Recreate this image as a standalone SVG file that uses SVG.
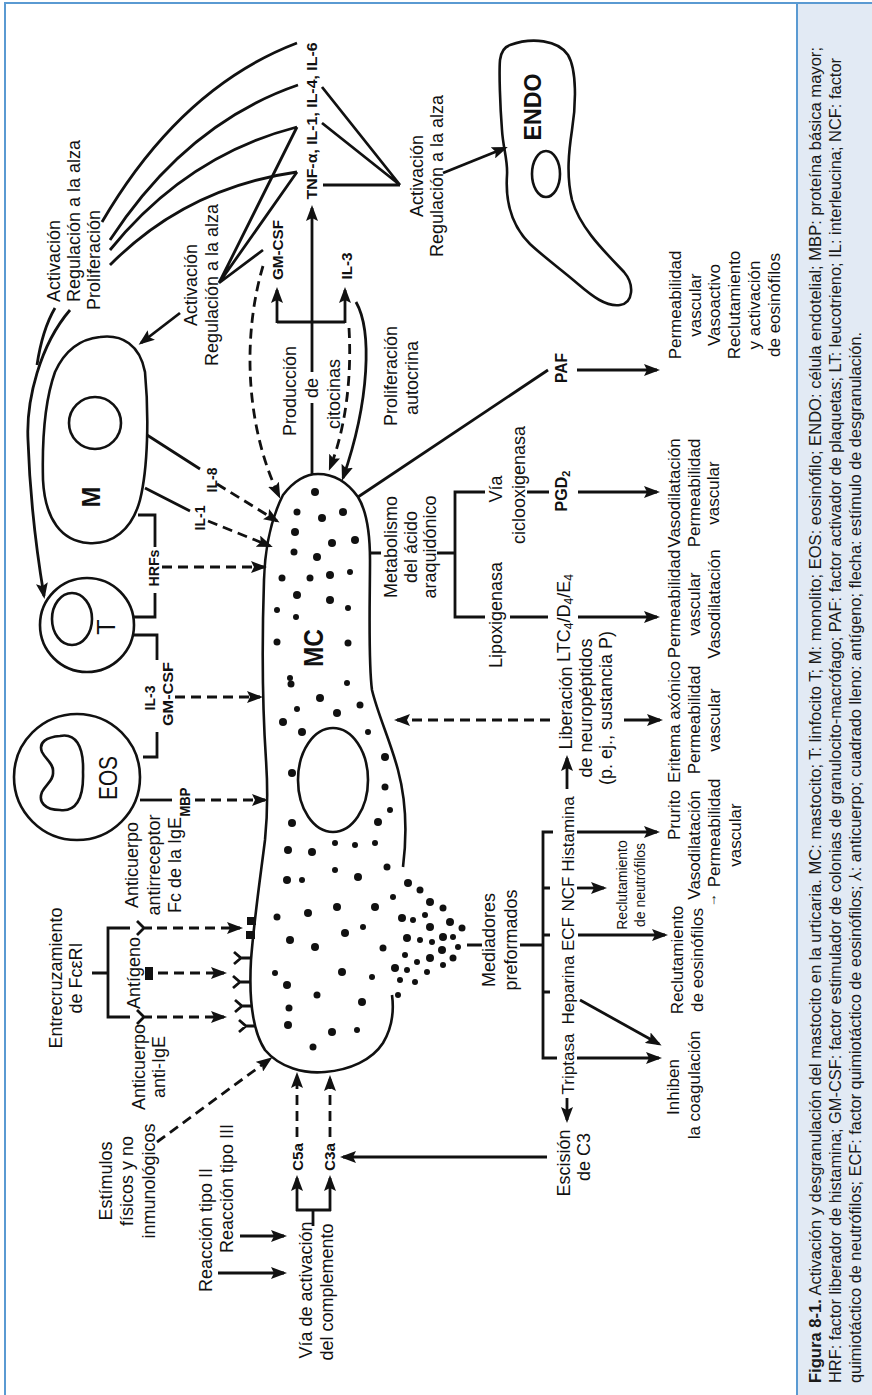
<svg xmlns="http://www.w3.org/2000/svg" width="872" height="1395" viewBox="0 0 872 1395">
<style>
 .t{font-family:"Liberation Sans",Arial,Helvetica,sans-serif;font-size:18px;fill:#111}
 .e{font-size:17px}
 .b{font-family:"Liberation Sans",Arial,Helvetica,sans-serif;font-size:15px;font-weight:bold;fill:#111}
 .b14{font-size:14px}
 .b16{font-size:16px}
 .sm{font-size:14px}
 .cap{font-family:"Liberation Sans",Arial,Helvetica,sans-serif;font-size:17px;fill:#1a1a1a}
 .ln{fill:none;stroke:#111;stroke-width:2.8;stroke-linejoin:miter}
 .ds{stroke-dasharray:10 6}
 .cell{fill:none;stroke:#111;stroke-width:2.6}
 .dot{fill:#111}
 .frame{stroke:#5a9ad2;stroke-width:2;fill:none}
</style>
<defs>
 <marker id="ah" viewBox="0 0 16 12" refX="13" refY="6" markerWidth="16" markerHeight="12" markerUnits="userSpaceOnUse" orient="auto">
  <path d="M0,0 L16,6 L0,12 L3,6 Z" fill="#111"/>
 </marker>
</defs>

<!-- frame and caption panel -->
<g id="frame">
 <rect x="797" y="3" width="75" height="1392" fill="#e2eaf4"/>
 <path class="frame" d="M5,1395 L5,3 L872,3 M797,3 L797,1395"/>
</g>

<!-- mast cell -->
<g id="mc">
 <path class="cell" d="M403,867 C407,835 406,800 398,770 C390,740 378,715 372,690 C368,660 370,600 370,560 C370,530 366,510 358,497 C348,483 335,474 318,474 C305,474 293,482 283,495 C273,515 265,545 264,580 C262,640 262,700 266,760 C268,790 268,810 265,840 C260,880 254,920 251,960 C249,995 252,1030 265,1050 C280,1068 305,1074 325,1072 C350,1070 372,1060 383,1043 C392,1028 394,1010 392,995"/>
 <ellipse class="cell" cx="333" cy="780" rx="35" ry="52"/>
 <g class="dot">
  <circle cx="297" cy="512" r="3.5"/><circle cx="295" cy="532" r="4"/><circle cx="294" cy="552" r="3.5"/><circle cx="282" cy="578" r="3.5"/>
  <circle cx="297" cy="595" r="4"/><circle cx="277" cy="610" r="3"/><circle cx="296" cy="617" r="3"/><circle cx="277" cy="642" r="3.5"/>
  <circle cx="290" cy="678" r="3"/><circle cx="315" cy="492" r="4"/><circle cx="343" cy="512" r="4"/><circle cx="322" cy="518" r="4"/>
  <circle cx="332" cy="543" r="4"/><circle cx="355" cy="540" r="4"/><circle cx="317" cy="557" r="4"/><circle cx="350" cy="572" r="3"/>
  <circle cx="330" cy="575" r="4"/><circle cx="310" cy="578" r="3.5"/><circle cx="330" cy="600" r="4"/><circle cx="348" cy="608" r="3"/>
  <circle cx="348" cy="643" r="3.5"/><circle cx="291" cy="684" r="3.5"/><circle cx="320" cy="698" r="4"/><circle cx="347" cy="683" r="3"/>
  <circle cx="297" cy="709" r="3"/><circle cx="337" cy="713" r="4"/><circle cx="360" cy="705" r="3.5"/><circle cx="283" cy="722" r="4"/>
  <circle cx="302" cy="732" r="4"/><circle cx="368" cy="732" r="3"/><circle cx="385" cy="757" r="4"/><circle cx="292" cy="773" r="4"/>
  <circle cx="385" cy="787" r="3.5"/><circle cx="390" cy="810" r="3"/><circle cx="292" cy="823" r="4"/><circle cx="378" cy="822" r="4"/>
  <circle cx="288" cy="850" r="4"/><circle cx="312" cy="852" r="4"/><circle cx="335" cy="843" r="3"/><circle cx="355" cy="845" r="3"/>
  <circle cx="375" cy="843" r="3"/><circle cx="387" cy="867" r="3.5"/><circle cx="287" cy="880" r="4"/><circle cx="302" cy="880" r="3"/>
  <circle cx="335" cy="870" r="3"/><circle cx="358" cy="877" r="4"/><circle cx="277" cy="917" r="3.5"/><circle cx="308" cy="913" r="4"/>
  <circle cx="337" cy="907" r="4"/><circle cx="375" cy="907" r="4"/><circle cx="345" cy="933" r="4"/><circle cx="363" cy="927" r="3"/>
  <circle cx="290" cy="940" r="4"/><circle cx="315" cy="947" r="4"/><circle cx="342" cy="972" r="4"/><circle cx="275" cy="973" r="3"/>
  <circle cx="287" cy="985" r="4"/><circle cx="317" cy="995" r="3.5"/><circle cx="362" cy="1002" r="4"/><circle cx="372" cy="977" r="3"/>
  <circle cx="383" cy="948" r="3.5"/><circle cx="289" cy="1008" r="3.5"/><circle cx="288" cy="1025" r="4"/><circle cx="332" cy="1032" r="4"/>
  <circle cx="357" cy="1030" r="3"/><circle cx="313" cy="1047" r="3.5"/><circle cx="398" cy="995" r="3"/>
 </g>
 <!-- granule release -->
 <g class="dot">
  <circle cx="408" cy="883" r="4"/><circle cx="420" cy="890" r="3.5"/><circle cx="393" cy="897" r="3"/><circle cx="430" cy="902" r="4"/>
  <circle cx="443" cy="908" r="3.5"/><circle cx="402" cy="918" r="4"/><circle cx="413" cy="920" r="3"/><circle cx="425" cy="915" r="3"/>
  <circle cx="450" cy="922" r="4"/><circle cx="430" cy="927" r="4"/><circle cx="462" cy="928" r="3.5"/><circle cx="407" cy="938" r="4"/>
  <circle cx="420" cy="940" r="3"/><circle cx="432" cy="942" r="3"/><circle cx="443" cy="937" r="4"/><circle cx="453" cy="937" r="3"/>
  <circle cx="442" cy="950" r="4"/><circle cx="458" cy="947" r="3"/><circle cx="405" cy="955" r="3"/><circle cx="417" cy="962" r="3"/>
  <circle cx="430" cy="958" r="4"/><circle cx="453" cy="958" r="3.5"/><circle cx="443" cy="965" r="3"/><circle cx="395" cy="968" r="4"/>
  <circle cx="407" cy="970" r="3"/><circle cx="427" cy="972" r="3"/><circle cx="400" cy="980" r="3"/><circle cx="415" cy="982" r="3"/>
 </g>
 <!-- surface receptors -->
 <rect x="247" y="917" width="9" height="8" fill="#111"/>
 <rect x="246" y="931" width="9" height="8" fill="#111"/>
 <path class="ln" stroke-width="2.4" d="M251,958 L241,958 L234,952 M241,958 L234,964 M250,982 L240,982 L233,976 M240,982 L233,988 M252,1006 L242,1006 L235,1000 M242,1006 L235,1012 M256,1026 L246,1026 L239,1020 M246,1026 L239,1032"/>
 <g transform="translate(0 1395) rotate(-90)"><text class="b" style="font-size:27px" x="747" y="323" text-anchor="middle" textLength="38" lengthAdjust="spacingAndGlyphs">MC</text></g>
</g>

<!-- eosinophil -->
<g id="eos">
 <circle class="cell" cx="77" cy="777" r="63"/>
 <path class="cell" d="M60,736 C75,733 84,745 83,772 C84,800 75,812 60,810 C45,810 38,802 42,792 C46,784 54,780 53,772 C54,764 46,760 42,752 C38,742 47,737 60,736 Z"/>
 <g transform="translate(0 1395) rotate(-90)"><text class="t" style="font-size:26px" x="617" y="117" text-anchor="middle" textLength="44" lengthAdjust="spacingAndGlyphs">EOS</text></g>
</g>

<!-- T lymphocyte -->
<g id="t-cell">
 <circle class="cell" cx="87" cy="625" r="47"/>
 <ellipse class="cell" cx="72" cy="619" rx="20" ry="26"/>
 <g transform="translate(0 1395) rotate(-90)"><text class="t" style="font-size:25px" x="768" y="115" text-anchor="middle">T</text></g>
</g>

<!-- monocyte -->
<g id="m-cell">
 <path class="cell" d="M100,337 C122,334 140,345 145,372 C149,415 148,468 140,500 C132,530 112,545 88,543 C62,541 45,520 43,480 C42,440 45,400 55,372 C65,350 80,339 100,337 Z"/>
 <circle class="cell" cx="95" cy="423" r="26"/>
 <g transform="translate(0 1395) rotate(-90)"><text class="b" style="font-size:25px" x="898" y="100" text-anchor="middle">M</text></g>
</g>

<!-- endothelial cell -->
<g id="endo">
 <path class="cell" d="M510,45 C532,37 558,40 568,55 C577,70 576,105 572,130 C569,150 566,175 572,200 C580,228 605,252 624,272 C635,285 633,303 620,305 C606,307 592,296 578,284 C562,270 545,258 530,244 C514,228 505,205 507,175 C508,160 503,148 502,130 C500,105 499,72 500,60 C501,52 504,47 510,45 Z"/>
 <ellipse class="cell" cx="546" cy="174" rx="14" ry="23"/>
 <g transform="translate(0 1395) rotate(-90)"><text class="b" style="font-size:24px" x="1288" y="541" text-anchor="middle" textLength="67" lengthAdjust="spacingAndGlyphs">ENDO</text></g>
</g>

<!-- all rotated labels -->
<g transform="translate(0 1395) rotate(-90)">
 <g id="lbl-t-act">
  <text class="t" x="1093" y="60">Activación</text>
  <text class="t" x="1093" y="80">Regulación a la alza</text>
  <text class="t" x="1085" y="100">Proliferación</text>
 </g>
 <g id="lbl-m-act" text-anchor="middle">
  <text class="t" x="1110" y="197">Activación</text>
  <text class="t" x="1110" y="218">Regulación a la alza</text>
 </g>
 <g id="lbl-endo-act" text-anchor="middle">
  <text class="t" x="1219" y="423">Activación</text>
  <text class="t" x="1219" y="443">Regulación a la alza</text>
 </g>
 <g id="cytokines" text-anchor="middle">
  <text class="b" x="1274" y="317" textLength="157" lengthAdjust="spacingAndGlyphs">TNF-α, IL-1, IL-4, IL-6</text>
  <text class="b" x="1145" y="283" textLength="60" lengthAdjust="spacingAndGlyphs">GM-CSF</text>
  <text class="b" x="1129" y="352" textLength="27" lengthAdjust="spacingAndGlyphs">IL-3</text>
 </g>
 <g id="produccion" text-anchor="middle">
  <text class="t" x="1004" y="296">Producción</text>
  <text class="t" x="1007" y="318">de</text>
  <text class="t" x="1001" y="340">citocinas</text>
 </g>
 <g id="autocrina" text-anchor="middle">
  <text class="t" x="1019" y="397">Proliferación</text>
  <text class="t" x="1017" y="418">autocrina</text>
 </g>
 <g id="metabolismo" text-anchor="middle">
  <text class="t" x="848" y="397">Metabolismo</text>
  <text class="t" x="848" y="417">del ácido</text>
  <text class="t" x="848" y="436">araquidónico</text>
 </g>
 <g id="ciclooxigenasa" text-anchor="middle">
  <text class="t" x="906" y="502">Vía</text>
  <text class="t" x="910" y="525">ciclooxigenasa</text>
 </g>
 <g id="lipoxigenasa" text-anchor="middle">
  <text class="t" x="780" y="502">Lipoxigenasa</text>
 </g>
 <g id="paf" text-anchor="middle">
  <text class="b b16" x="1027" y="567" textLength="30" lengthAdjust="spacingAndGlyphs">PAF</text>
 </g>
 <g id="pgd2" text-anchor="middle">
  <text class="b b16" x="904" y="567">PGD<tspan font-size="11" dy="3">2</tspan></text>
 </g>
 <g id="ltc4" text-anchor="middle">
  <text class="t" x="777" y="570">LTC<tspan font-size="12" dy="3">4</tspan><tspan dy="-3">/D</tspan><tspan font-size="12" dy="3">4</tspan><tspan dy="-3">/E</tspan><tspan font-size="12" dy="3">4</tspan></text>
 </g>
 <g id="liberacion" text-anchor="middle">
  <text class="t" x="687" y="572">Liberación</text>
  <text class="t" x="687" y="592">de neuropéptidos</text>
  <text class="t" x="687" y="612">(p. ej., sustancia P)</text>
 </g>
 <g id="mediadores" text-anchor="middle">
  <text class="t" x="455" y="495">Mediadores</text>
  <text class="t" x="455" y="517">preformados</text>
 </g>
 <g id="histamina" text-anchor="middle"><text class="t e" x="561" y="574">Histamina</text></g>
 <g id="ncf" text-anchor="middle"><text class="t e" x="501" y="574">NCF</text></g>
 <g id="ecf" text-anchor="middle"><text class="t e" x="461" y="574">ECF</text></g>
 <g id="heparina" text-anchor="middle"><text class="t e" x="405" y="574">Heparina</text></g>
 <g id="triptasa" text-anchor="middle"><text class="t e" x="331" y="574">Triptasa</text></g>
 <g id="escision" text-anchor="middle">
  <text class="t" x="232" y="570">Escisión</text>
  <text class="t" x="238" y="590">de C3</text>
 </g>
 <g id="ef-paf" text-anchor="middle">
  <text class="t e" x="1090" y="681">Permeabilidad</text>
  <text class="t e" x="1090" y="701">vascular</text>
  <text class="t e" x="1090" y="720">Vasoactivo</text>
  <text class="t e" x="1090" y="740">Reclutamiento</text>
  <text class="t e" x="1090" y="760">y activación</text>
  <text class="t e" x="1090" y="780">de eosinófilos</text>
 </g>
 <g id="ef-pgd2" text-anchor="middle">
  <text class="t e" x="902" y="680">Vasodilatación</text>
  <text class="t e" x="902" y="700">Permeabilidad</text>
  <text class="t e" x="902" y="719">vascular</text>
 </g>
 <g id="ef-ltc" text-anchor="middle">
  <text class="t e" x="791" y="680">Permeabilidad</text>
  <text class="t e" x="791" y="700">vascular</text>
  <text class="t e" x="791" y="720">Vasodilatación</text>
 </g>
 <g id="ef-neuro" text-anchor="middle">
  <text class="t e" x="673" y="680">Eritema axónico</text>
  <text class="t e" x="675" y="700">Permeabilidad</text>
  <text class="t e" x="675" y="720">vascular</text>
 </g>
 <g id="ef-histamina" text-anchor="middle">
  <text class="t e" x="580" y="680">Prurito</text>
  <text class="t e" x="550" y="700">Vasodilatación</text>
  <text class="t e" x="562" y="720">Permeabilidad</text>
  <text class="t e" x="560" y="741">vascular</text>
 </g>
 <g id="ef-ncf" text-anchor="middle">
  <text class="t sm" x="510" y="627">Reclutamiento</text>
  <text class="t sm" x="510" y="645">de neutrófilos</text>
 </g>
 <g id="ef-ecf" text-anchor="middle">
  <text class="t e" x="435" y="683">Reclutamiento</text>
  <text class="t e" x="435" y="703">de eosinófilos</text>
 </g>
 <g id="ef-coag" text-anchor="middle">
  <text class="t e" x="308" y="679">Inhiben</text>
  <text class="t e" x="310" y="700">la coagulación</text>
 </g>
 <g id="complemento" text-anchor="middle">
  <text class="b b14" x="238" y="303" textLength="28" lengthAdjust="spacingAndGlyphs">C5a</text>
  <text class="b b14" x="238" y="335" textLength="28" lengthAdjust="spacingAndGlyphs">C3a</text>
  <text class="t" x="105" y="312">Vía de activación</text>
  <text class="t" x="103" y="333">del complemento</text>
 </g>
 <g id="reacciones">
  <text class="t" x="103" y="212">Reacción tipo II</text>
  <text class="t" x="142" y="233">Reacción tipo III</text>
 </g>
 <g id="estimulos" text-anchor="middle">
  <text class="t" x="214" y="112">Estímulos</text>
  <text class="t" x="214" y="133">físicos y no</text>
  <text class="t" x="214" y="155">inmunológicos</text>
 </g>
 <g id="anti-ige" text-anchor="middle">
  <text class="t" x="328" y="145">Anticuerpo</text>
  <text class="t" x="328" y="165">anti-IgE</text>
 </g>
 <g id="antigeno" text-anchor="middle">
  <text class="t" x="422" y="140">Antígeno</text>
 </g>
 <g id="anti-receptor" text-anchor="middle">
  <text class="t" x="530" y="138">Anticuerpo</text>
  <text class="t" x="530" y="160">antirreceptor</text>
  <text class="t" x="530" y="181">Fc de la IgE</text>
 </g>
 <g id="entrecruzamiento" text-anchor="middle">
  <text class="t" x="417" y="62">Entrecruzamiento</text>
  <text class="t" x="417" y="82">de FcεRI</text>
 </g>
 <g id="eos-mediators" text-anchor="middle">
  <text class="b b14" x="593" y="190" textLength="29" lengthAdjust="spacingAndGlyphs">MBP</text>
  <text class="b b14" x="697" y="155">IL-3</text>
  <text class="b b14" x="701" y="173" textLength="64" lengthAdjust="spacingAndGlyphs">GM-CSF</text>
 </g>
 <g id="hrfs" text-anchor="middle">
  <text class="b b14" x="827" y="159" textLength="37" lengthAdjust="spacingAndGlyphs">HRFs</text>
 </g>
 <g id="m-mediators" text-anchor="middle">
  <text class="b b14" x="915" y="217">IL-8</text>
  <text class="b b14" x="877" y="205">IL-1</text>
 </g>
 <g id="caption">
  <text class="cap" x="12" y="821" textLength="1336" lengthAdjust="spacingAndGlyphs"><tspan font-weight="bold">Figura 8-1.</tspan> Activación y desgranulación del mastocito en la urticaria. MC: mastocito; T: linfocito T; M: monolito; EOS: eosinófilo; ENDO: célula endotelial; MBP: proteína básica mayor;</text>
  <text class="cap" x="12" y="841" textLength="1325" lengthAdjust="spacingAndGlyphs">HRF: factor liberador de histamina; GM-CSF: factor estimulador de colonias de granulocito-macrófago; PAF: factor activador de plaquetas; LT: leucotrieno; IL: interleucina; NCF: factor</text>
  <text class="cap" x="12" y="861" textLength="1051" lengthAdjust="spacingAndGlyphs">quimiotáctico de neutrófilos; ECF: factor quimiotáctico de eosinófilos; ⅄: anticuerpo; cuadrado lleno: antígeno; flecha: estímulo de desgranulación.</text>
 </g>
</g>

<!-- upright increase mark beside permeability -->
<text class="t" style="font-size:14px" x="714" y="904" text-anchor="middle">↑</text>

<!-- antibody / antigen symbols -->
<g id="symbols">
 <path class="ln" stroke-width="2.4" d="M137,921 L144,928 L137,935 M144,928 L152,928 M137,1010 L144,1017 L137,1024 M144,1017 L152,1017"/>
 <rect x="145" y="967" width="8" height="13" fill="#111"/>
</g>

<!-- connectors -->
<g id="connectors">
 <g class="ln">
  <path d="M70,310 C40,345 26,400 28,440 C30,500 38,560 44,596" marker-end="url(#ah)"/>
  <path d="M55,308 C45,325 40,345 37,365"/>
  <path d="M180,313 L141,343" marker-end="url(#ah)"/>
  <path d="M443,173 L505,148" marker-end="url(#ah)"/>
  <path d="M102,222 Q180.5,87.5 297,43"/>
  <path d="M110,240 Q186,123.5 298,85"/>
  <path d="M110,250 Q186.5,155.5 297,127"/>
  <path d="M110,265 Q186.5,187.5 297,172"/>
  <path d="M297,127 L219,283 M297,172 L219,283 M263,250 L219,283"/>
  <path d="M322,87 L400,185 M322,123 L400,185 M323,185 L400,185"/>
  <path d="M312,474 L312,403"/>
  <path d="M312,372 L312,208" marker-end="url(#ah)"/>
  <path d="M277,322 L345,322"/>
  <path d="M277,323 L277,290" marker-end="url(#ah)"/>
  <path d="M345,323 L345,290" marker-end="url(#ah)"/>
  <path d="M356,302 C372,330 370,400 343,478" marker-end="url(#ah)"/>
  <path d="M358,497 L548,370"/>
  <path d="M369,553 L381,553 M437,553 L455,553 M485,492 L455,492 L455,617 L485,617 M510,617 L548,617 M527,492 L549,492"/>
  <path d="M577,370 L657,370" marker-end="url(#ah)"/>
  <path d="M578,492 L657,492" marker-end="url(#ah)"/>
  <path d="M578,617 L657,617" marker-end="url(#ah)"/>
  <path d="M624,720 L660,720" marker-end="url(#ah)"/>
  <path d="M567,789 L567,758" marker-end="url(#ah)"/>
  <path d="M467,945 L482,945 M520,945 L543,945 M553,832 L543,832 L543,1058 L557,1058 M543,888 L550,888 M543,935 L550,935 M543,992 L550,992"/>
  <path d="M577,832 L657,832" marker-end="url(#ah)"/>
  <path d="M577,888 L604,888" marker-end="url(#ah)"/>
  <path d="M578,935 L665,935" marker-end="url(#ah)"/>
  <path d="M580,1000 L659,1044" marker-end="url(#ah)"/>
  <path d="M577,1058 L659,1058" marker-end="url(#ah)"/>
  <path d="M567,1098 L567,1120" marker-end="url(#ah)"/>
  <path d="M547,1157 L343,1157" marker-end="url(#ah)"/>
  <path d="M313,1226 L313,1210 M296,1210 L331,1210"/>
  <path d="M297,1211 L297,1178" marker-end="url(#ah)"/>
  <path d="M330,1211 L330,1178" marker-end="url(#ah)"/>
  <path d="M218,1273 L284,1273" marker-end="url(#ah)"/>
  <path d="M240,1236 L284,1236" marker-end="url(#ah)"/>
  <path d="M92,973 L108,973 M130,928 L108,928 L108,1017 L130,1017"/>
  <path d="M147,435 L200,469 M145,488 L190,511"/>
  <path d="M133,617 L155,617 L155,593 M155,547 L155,515 L138,515"/>
  <path d="M132,635 L157,635 L157,660 M143,757 L157,757 L157,732"/>
  <path d="M140,800 L172,800"/>
 </g>
 <g class="ln ds">
  <path d="M263,266 C244,330 243,420 279,496" marker-end="url(#ah)"/>
  <path d="M349,328 C352,380 345,430 330,468" marker-end="url(#ah)"/>
  <path d="M217,484 L277,521" marker-end="url(#ah)"/>
  <path d="M208,521 L270,546" marker-end="url(#ah)"/>
  <path d="M162,567 L264,567" marker-end="url(#ah)"/>
  <path d="M175,697 L260,697" marker-end="url(#ah)"/>
  <path d="M195,800 L265,800" marker-end="url(#ah)"/>
  <path d="M157,928 L240,928" marker-end="url(#ah)"/>
  <path d="M158,973 L224,973" marker-end="url(#ah)"/>
  <path d="M157,1017 L224,1017" marker-end="url(#ah)"/>
  <path d="M157,1142 L270,1059" marker-end="url(#ah)"/>
  <path d="M550,720 L397,720" marker-end="url(#ah)"/>
  <path d="M297,1137 L297,1075" marker-end="url(#ah)"/>
  <path d="M330,1137 L330,1078" marker-end="url(#ah)"/>
 </g>
</g>
</svg>
